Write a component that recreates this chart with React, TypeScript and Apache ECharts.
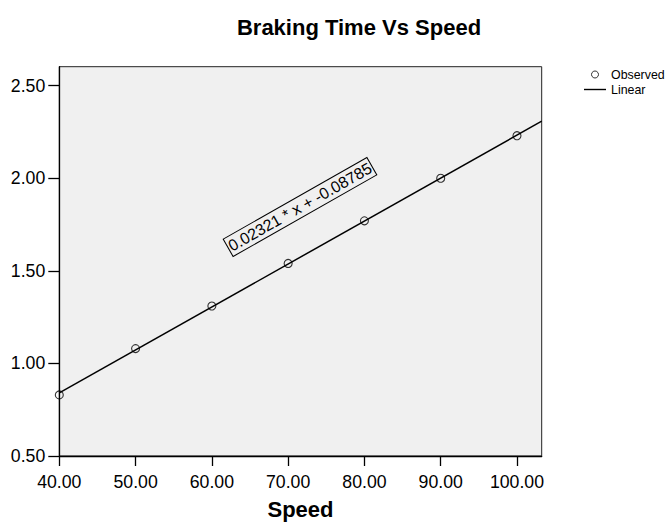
import React, { useEffect, useRef } from "react";
import * as echarts from "echarts";

const speeds = [40, 50, 60, 70, 80, 90, 100];
const brakingTimes = [0.83, 1.08, 1.31, 1.54, 1.77, 2.0, 2.23];
const slope = 0.02321;
const intercept = -0.08785;
const xTicks = [40, 50, 60, 70, 80, 90, 100];
const yTicks = [0.5, 1.0, 1.5, 2.0, 2.5];
const xMin = 40;
const xMax = 103.24;
const yMin = 0.5;
const yMax = 2.6026;

const FONT = "'Liberation Sans', Arial, sans-serif";

export default function App() {
  const ref = useRef<HTMLDivElement>(null);
  useEffect(() => {
    document.body.style.margin = "0";
    document.body.style.overflow = "hidden";
    if (!ref.current) return;
    const chart = echarts.init(ref.current, null, { renderer: "svg" });
    const observed = speeds.map((s, i) => [s, brakingTimes[i]]);
    const fitLine = [xMin, xMax].map((x) => [x, slope * x + intercept]);
    chart.setOption({
      animation: false,
      textStyle: { fontFamily: FONT },
      title: {
        text: "Braking Time Vs Speed",
        left: 359,
        textAlign: "center",
        top: 16,
        padding: 0,
        textStyle: { fontFamily: FONT, fontSize: 22, fontWeight: "bold", color: "#000" },
      },
      legend: {
        orient: "vertical",
        left: 584,
        top: 67,
        padding: 0,
        itemWidth: 22,
        itemHeight: 7,
        itemGap: 0,
        textStyle: { fontFamily: FONT, fontSize: 12.4, lineHeight: 15, color: "#000", padding: 0 },
        data: [
          { name: "Observed", icon: "circle", itemStyle: { color: "transparent", borderColor: "#000", borderWidth: 1 } },
          { name: "Linear", icon: "path://M0,0H22V1.4H0Z", itemStyle: { color: "#000" } },
        ],
      },
      grid: {
        left: 59.3,
        right: 125.3,
        top: 66.7,
        bottom: 66,
        outerBoundsMode: "none",
        show: true,
        backgroundColor: "#f0f0f0",
        borderColor: "#222",
        borderWidth: 1,
      },
      xAxis: {
        type: "value",
        min: xMin,
        max: xMax,
        interval: 10,
        name: "Speed",
        nameLocation: "middle",
        nameGap: 43,
        nameTextStyle: { fontFamily: FONT, fontSize: 22, lineHeight: 20, fontWeight: "bold", color: "#000" },
        axisLine: { show: true, onZero: false, lineStyle: { color: "#000", width: 1.3 } },
        axisTick: { show: true, inside: false, length: 10, customValues: xTicks, lineStyle: { color: "#000", width: 1.3 } },
        axisLabel: {
          customValues: xTicks,
          margin: 17,
          fontFamily: FONT,
          fontSize: 17.7,
          color: "#000",
          formatter: (v: number) => v.toFixed(2),
        },
        splitLine: { show: false },
      },
      yAxis: {
        type: "value",
        min: yMin,
        max: yMax,
        interval: 0.5,
        axisLine: { show: true, onZero: false, lineStyle: { color: "#000", width: 1.3 } },
        axisTick: { show: true, inside: false, length: 11, customValues: yTicks, lineStyle: { color: "#000", width: 1.3 } },
        axisLabel: {
          customValues: yTicks,
          margin: 14,
          fontFamily: FONT,
          fontSize: 17.7,
          color: "#000",
          formatter: (v: number) => v.toFixed(2),
        },
        splitLine: { show: false },
      },
      series: [
        {
          name: "Observed",
          type: "scatter",
          data: observed,
          symbol: "circle",
          symbolSize: 8,
          itemStyle: { color: "transparent", borderColor: "#000", borderWidth: 1.1 },
          z: 3,
        },
        {
          name: "Linear",
          type: "line",
          data: fitLine,
          symbol: "none",
          showSymbol: false,
          lineStyle: { color: "#000", width: 1.5 },
          itemStyle: { color: "#000" },
          z: 2,
        },
      ],
      graphic: [
        {
          type: "text",
          x: 300,
          y: 207,
          rotation: (29.6 * Math.PI) / 180,
          z: 10,
          style: {
            text: `${slope} * x + ${intercept}`,
            fontFamily: FONT,
            fontSize: 16,
            fill: "#000",
            align: "center",
            verticalAlign: "middle",
            backgroundColor: "#f0f0f0",
            borderColor: "#000",
            borderWidth: 1,
            padding: [2, 1, 1, 1],
          },
        },
      ],
    });
    return () => chart.dispose();
  }, []);
  return <div ref={ref} style={{ width: 667, height: 522 }} />;
}
